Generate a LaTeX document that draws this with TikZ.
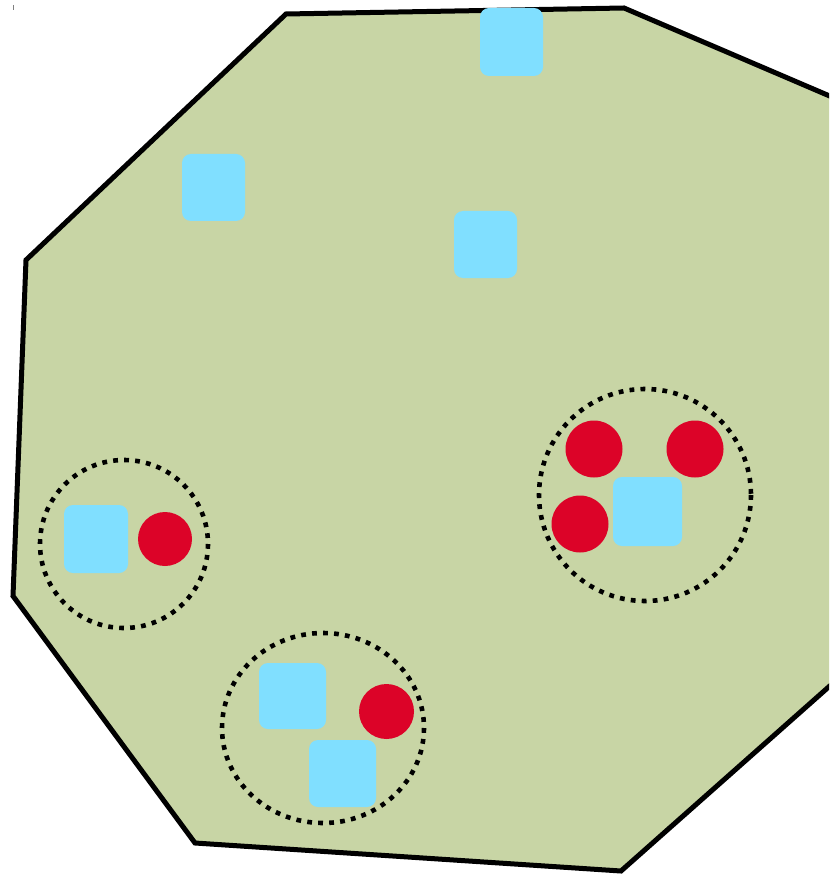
\documentclass[tikz,border=0pt]{standalone}
\usetikzlibrary{shapes.geometric}
\definecolor{land}{RGB}{200,213,165}
\definecolor{sq}{RGB}{128,223,255}
\definecolor{dot}{RGB}{220,3,40}
\tikzset{
  sqbox/.style={fill=sq, rounded corners=9pt},
  reddot/.style={fill=dot},
  grp/.style={draw=black, line width=4.6pt, dash pattern=on 4.8pt off 6.2pt},
  border/.style={draw=black, fill=land, line width=5pt, line join=miter}
}
\begin{document}
\begin{tikzpicture}[x=1pt,y=-1pt]
\useasboundingbox (0,0) rectangle (829,874);
\begin{scope}
\clip (0,0) rectangle (829,874);
\draw[border] (286,14) coordinate (p1) -- (624,8) coordinate (p2) -- (832,97) coordinate (p3) -- (832,684) coordinate (p4) -- (621,871) coordinate (p5) -- (195,843) coordinate (p6) -- (13,596) coordinate (p7) -- (26,260) coordinate (p8) -- cycle;
\end{scope}
\draw[gray, line width=1pt] (13.5,5) coordinate (t1) -- (13.5,10) coordinate (t2);
% free squares
\fill[sqbox] (480,8) rectangle (543,76);
\fill[sqbox] (182,154) rectangle (245,221);
\fill[sqbox] (454,211) rectangle (517,278);
% left group
\draw[grp] (124,544) circle (84);
\fill[sqbox] (64,505) rectangle (128,573);
\fill[reddot] (165,539) circle (27);
% right group
\draw[grp] (645,495) circle (106);
\fill[reddot] (594,449) circle (28.5);
\fill[reddot] (695,449) circle (28.5);
\fill[reddot] (580,524) circle (28.5);
\fill[sqbox] (613,477) rectangle (682,546);
% bottom group
\draw[grp] (323,728) ellipse (101 and 95);
\fill[sqbox] (259,663) rectangle (326,729);
\fill[sqbox] (309,740) rectangle (376,807);
\fill[reddot] (386.5,711.5) circle (27.5);
\end{tikzpicture}
\end{document}
